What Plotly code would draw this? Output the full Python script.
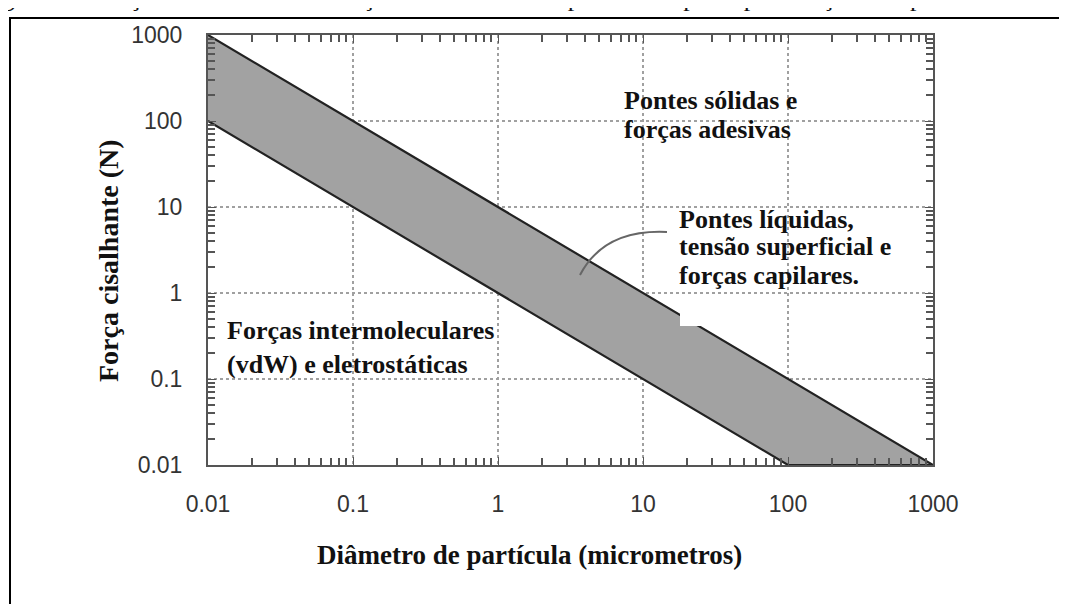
import plotly.graph_objects as go

# band limits (diameter in micrometres, shear force in N)
upper_diam = [0.01, 1000]
upper_force = [1000, 0.01]
lower_diam = [0.01, 100]
lower_force = [100, 0.01]

# log10 of the axis limits (0.01 .. 1000)
axis_range = [-2, 3]
minor_vals = [m * 10 ** e for e in range(-2, 3) for m in range(2, 10)]

# plot area in screen pixels (page body adds an 8px offset)
OFF = 8
L, R, T, B = 208, 933, 35, 465


def px(x):
    return (x - L) / (R - L)


def py(y):
    return (B - y) / (B - T)


serif = "Liberation Serif, Times New Roman, serif"
sans = "Liberation Sans, Arial, sans-serif"

fig = go.Figure()

# shaded band between the two limit lines
band_x = upper_diam + lower_diam[::-1]
band_y = upper_force + lower_force[::-1]
fig.add_trace(go.Scatter(
    x=band_x, y=band_y,
    mode='lines',
    fill='toself',
    fillcolor='#a2a2a2',
    line=dict(color='#222222', width=2.2),
    hoverinfo='skip',
    showlegend=False
))
# invisible copy on the overlay axes that carry the minor ticks
fig.add_trace(go.Scatter(
    x=band_x, y=band_y, xaxis='x2', yaxis='y2',
    mode='lines', line=dict(width=0), opacity=0,
    hoverinfo='skip', showlegend=False
))

axis_common = dict(
    type='log',
    range=axis_range,
    tickmode='linear',
    tick0=0,
    dtick=1,
    exponentformat='none',
    ticks='inside',
    ticklen=8,
    tickcolor='#555',
    showline=True,
    linecolor='#555',
    linewidth=2,
    mirror='allticks',
    showgrid=True,
    gridcolor='#a0a0a0',
    gridwidth=1.5,
    griddash='dot',
    zeroline=False,
    tickfont=dict(family=sans, size=23, color='#333'),
)

minor_common = dict(
    type='log',
    range=axis_range,
    tickmode='array',
    tickvals=minor_vals,
    ticks='inside',
    ticklen=7,
    tickwidth=1.5,
    tickcolor='#555',
    showticklabels=False,
    showgrid=False,
    showline=False,
    zeroline=False,
    mirror='ticks',
)

fig.update_layout(
    xaxis=dict(**axis_common, ticklabelstandoff=17),
    yaxis=dict(**axis_common, ticklabelstandoff=19),
    xaxis2=dict(**minor_common, overlaying='x', anchor='y', side='bottom'),
    yaxis2=dict(**minor_common, overlaying='y', anchor='x', side='left'),
)

txt = dict(family=serif, size=26, color='#111', weight='bold')

# region labels, one entry per line: (text, left x, centre y)
label_lines = [
    ("Pontes sólidas e", 622, 100),
    ("forças adesivas", 622, 130),
    ("Pontes líquidas,", 677, 219),
    ("tensão superficial e", 677, 247),
    ("forças capilares.", 677, 275),
    ("Forças intermoleculares", 225, 330),
    ("(vdW) e eletrostáticas", 225, 364),
]
for text, x, y in label_lines:
    fig.add_annotation(xref='paper', yref='paper', showarrow=False, font=txt,
                       text=text, x=px(x), y=py(y), xanchor='left', yanchor='middle')

# axis titles
fig.add_annotation(xref='paper', yref='paper', showarrow=False,
                   text="Diâmetro de partícula (micrometros)",
                   x=px(529), y=py(555), xanchor='center', yanchor='middle',
                   font=dict(txt, size=27))
fig.add_annotation(xref='paper', yref='paper', showarrow=False,
                   text="Força cisalhante (N)", textangle=-90,
                   x=px(108), y=py(261), xanchor='center', yanchor='middle',
                   font=dict(txt, size=28))

# caption of the source figure, cut off at the top of the image
fig.add_annotation(
    xref='paper', yref='paper', showarrow=False,
    text="Figura 1 – Forças cisalhantes em função do diâmetro de partícula e principais forças interparticulares",
    x=px(-22), y=py(14), xanchor='left', yanchor='bottom',
    font=dict(family=serif, size=26, color='#111')
)

# leader from the band to the middle label
fig.add_shape(
    type='path', xref='paper', yref='paper',
    path=f"M {px(580)},{py(275)} Q {px(604)},{py(229)} {px(667)},{py(232)}",
    line=dict(color='#666', width=2)
)
# white patch over the upper line
fig.add_shape(
    type='rect', xref='paper', yref='paper',
    x0=px(680), x1=px(712), y0=py(326), y1=py(313),
    fillcolor='white', line=dict(width=0), layer='above'
)
# outer frame of the figure
fig.add_shape(
    type='rect', xref='paper', yref='paper',
    x0=px(10), x1=px(1100), y0=py(640), y1=py(18),
    line=dict(color='black', width=2), fillcolor='rgba(0,0,0,0)'
)

fig.update_layout(
    width=1067, height=604,
    margin=dict(l=L - OFF, r=1067 - R + OFF, t=T - OFF, b=604 - B + OFF,
                autoexpand=False),
    plot_bgcolor='white',
    paper_bgcolor='white',
    showlegend=False
)

fig.write_html("out.html")
